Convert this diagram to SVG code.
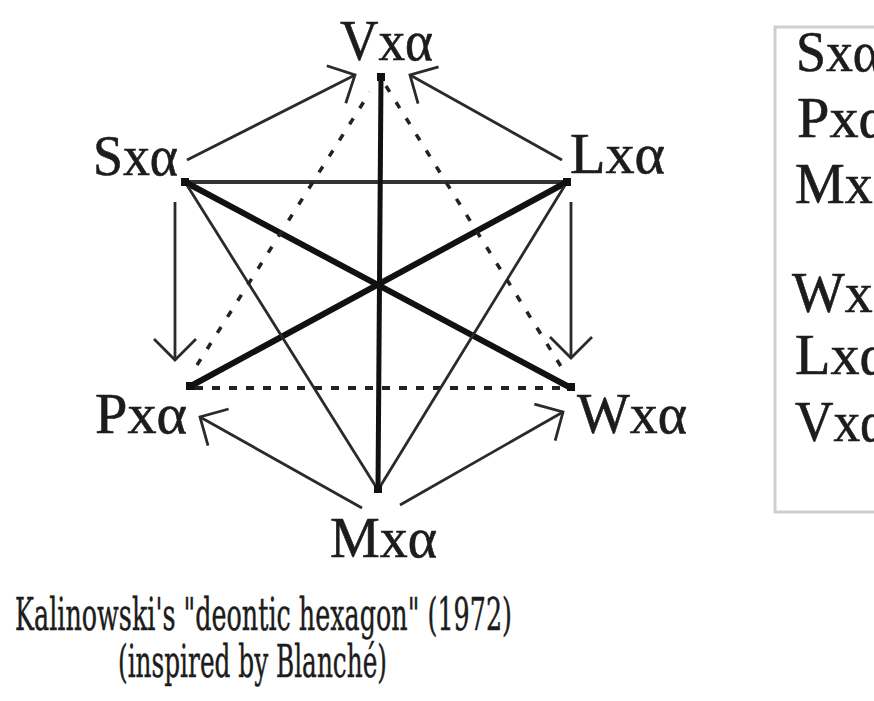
<svg xmlns="http://www.w3.org/2000/svg" width="874" height="701" viewBox="0 0 874 701">
<style>
.lbl{font-family:"Liberation Serif","Times New Roman",serif;font-size:56px;fill:#1c1c1c;stroke:#1c1c1c;stroke-width:0.6}
.cap{font-family:"DejaVu Serif","Liberation Serif",serif;font-size:45px;fill:#1c1c1c;stroke:#1c1c1c;stroke-width:0.5}
.thin{stroke:#2a2a2a;stroke-width:2.8;fill:none}
.arr{stroke:#2a2a2a;stroke-width:2.8;fill:none;marker-end:url(#open)}
.dot{stroke:#222;stroke-width:3.5;fill:none;stroke-dasharray:7 12}
.hdot{stroke:#222;stroke-width:4;fill:none;stroke-dasharray:8 9}
</style>
<defs>
<marker id="open" viewBox="-30 -30 40 60" markerWidth="40" markerHeight="60" refX="0" refY="0" orient="auto" markerUnits="userSpaceOnUse" overflow="visible">
<path d="M-21,-21 L0,0 L-21,21" fill="none" stroke="#2a2a2a" stroke-width="2.8"/>
</marker>
</defs>
<rect width="874" height="701" fill="#ffffff"/>
<g id="connectors">
<line x1="185" y1="182" x2="567" y2="182" stroke="#333" stroke-width="4"/>
<line x1="381" y1="76" x2="378" y2="490" stroke="#111" stroke-width="5"/>
<line x1="185" y1="182" x2="571" y2="388" stroke="#111" stroke-width="6"/>
<line x1="567" y1="182" x2="189" y2="387" stroke="#111" stroke-width="6"/>
<line x1="195" y1="388" x2="568" y2="388" class="hdot"/>
<line x1="185" y1="182" x2="378" y2="490" class="thin"/>
<line x1="567" y1="182" x2="378" y2="490" class="thin"/>
<line x1="197" y1="365" x2="370" y2="92" class="dot"/>
<line x1="386" y1="86" x2="562" y2="368" class="dot"/>
<line x1="187" y1="160" x2="355" y2="75" class="arr"/>
<line x1="562" y1="160" x2="410" y2="75" class="arr"/>
<line x1="175" y1="202" x2="175" y2="360" class="arr"/>
<line x1="571" y1="202" x2="571" y2="358" class="arr"/>
<line x1="362" y1="508" x2="200" y2="417" class="arr"/>
<line x1="400" y1="505" x2="563" y2="412" class="arr"/>
<rect x="377" y="73" width="8" height="8" fill="#111"/>
<rect x="181" y="178" width="8" height="8" fill="#111"/>
<rect x="563" y="178" width="8" height="8" fill="#111"/>
<rect x="186" y="382" width="9" height="8" fill="#111"/>
<rect x="567" y="383" width="8" height="8" fill="#111"/>
<rect x="374" y="485" width="8" height="8" fill="#111"/>
</g>
<g id="node-V"><text class="lbl" x="340" y="60" textLength="93" lengthAdjust="spacingAndGlyphs">Vxα</text></g>
<g id="node-S"><text class="lbl" x="93" y="175" textLength="85" lengthAdjust="spacingAndGlyphs">Sxα</text></g>
<g id="node-L"><text class="lbl" x="570" y="173" textLength="95" lengthAdjust="spacingAndGlyphs">Lxα</text></g>
<g id="node-P"><text class="lbl" x="95" y="433" textLength="92" lengthAdjust="spacingAndGlyphs">Pxα</text></g>
<g id="node-W"><text class="lbl" x="577" y="433" textLength="110" lengthAdjust="spacingAndGlyphs">Wxα</text></g>
<g id="node-M"><text class="lbl" x="330" y="557" textLength="107" lengthAdjust="spacingAndGlyphs">Mxα</text></g>
<g id="legend">
<rect x="775" y="27" width="200" height="485" fill="none" stroke="#cfcfcf" stroke-width="3"/>
<text class="lbl" x="796" y="71" textLength="85" lengthAdjust="spacingAndGlyphs">Sxα</text>
<text class="lbl" x="797" y="137" textLength="92" lengthAdjust="spacingAndGlyphs">Pxα</text>
<text class="lbl" x="795" y="203" textLength="107" lengthAdjust="spacingAndGlyphs">Mxα</text>
<text class="lbl" x="792" y="312" textLength="110" lengthAdjust="spacingAndGlyphs">Wxα</text>
<text class="lbl" x="795" y="374" textLength="95" lengthAdjust="spacingAndGlyphs">Lxα</text>
<text class="lbl" x="795" y="441" textLength="93" lengthAdjust="spacingAndGlyphs">Vxα</text>
</g>
<g id="caption">
<text class="cap" x="15" y="630" textLength="497" lengthAdjust="spacingAndGlyphs">Kalinowski's "deontic hexagon" (1972)</text>
<text class="cap" x="118" y="677" textLength="269" lengthAdjust="spacingAndGlyphs">(inspired by Blanché)</text>
</g>
</svg>
